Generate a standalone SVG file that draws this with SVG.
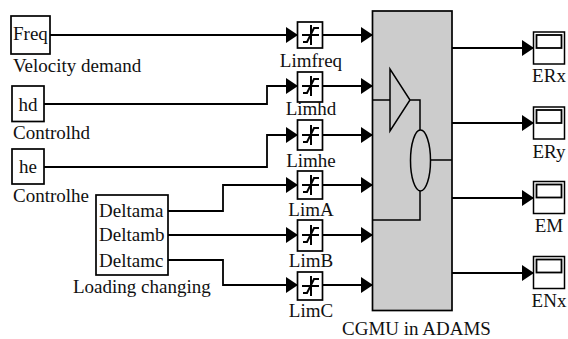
<svg xmlns="http://www.w3.org/2000/svg" width="568" height="339" viewBox="0 0 568 339">
<defs>
<marker id="a" markerUnits="userSpaceOnUse" markerWidth="13" markerHeight="17" refX="12" refY="8.500" orient="auto"><path d="M0 0.500L12 8.500L0 16.500Z" fill="#000"/></marker>
<path id="g" d="M-7 7H-3L4 -7H9M1 -10V10M-8 0H9" fill="none" stroke="#000" stroke-width="2"/>
<g id="scope"><rect x="-15.500" y="-16" width="31" height="32" fill="#fff" stroke="#000" stroke-width="1.500"/><rect x="-12.500" y="-13" width="25" height="13" fill="#fff" stroke="#000" stroke-width="1.800"/></g>
</defs>
<style>
text{font-family:"Liberation Serif","Times New Roman",serif;font-size:19px;fill:#111}
.b{fill:#fff;stroke:#000;stroke-width:1.700}
.c{fill:none;stroke:#000;stroke-width:1.800;marker-end:url(#a)}
.i{fill:none;stroke:#000;stroke-width:1.500}
.m{text-anchor:middle}
</style>
<g id="connectors">
<path class="c" d="M50 35H298"/>
<path class="c" d="M44 104H267V86H298"/>
<path class="c" d="M44 167H267V135H298"/>
<path class="c" d="M168 211H223V185H298"/>
<path class="c" d="M168 235H298"/>
<path class="c" d="M168 260H223V285H298"/>
<path class="c" d="M323 35H373"/>
<path class="c" d="M323 86H373"/>
<path class="c" d="M323 135H373"/>
<path class="c" d="M323 185H373"/>
<path class="c" d="M323 235H373"/>
<path class="c" d="M323 285H373"/>
<path class="c" d="M452 48H534"/>
<path class="c" d="M452 123H534"/>
<path class="c" d="M452 198H534"/>
<path class="c" d="M452 273H534"/>
</g>
<g id="Freq"><rect class="b" x="11" y="16" width="39" height="38"/><text x="13" y="40">Freq</text><text x="13" y="72">Velocity demand</text></g>
<g id="hd"><rect class="b" x="12" y="86" width="32" height="35.500"/><text class="m" x="28" y="111">hd</text><text x="13" y="139">Controlhd</text></g>
<g id="he"><rect class="b" x="12" y="149" width="32" height="35"/><text class="m" x="28" y="173">he</text><text x="13" y="202">Controlhe</text></g>
<g id="Loading"><rect class="b" x="96" y="195" width="72" height="80"/><text x="99" y="217">Deltama</text><text x="99" y="241">Deltamb</text><text x="99" y="267">Deltamc</text><text x="73" y="293">Loading changing</text></g>
<g id="Limfreq"><rect class="b" x="297.500" y="22" width="25" height="26"/><use href="#g" x="310" y="35"/><text class="m" x="311" y="67">Limfreq</text></g>
<g id="Limhd"><rect class="b" x="297.500" y="72" width="25" height="30"/><use href="#g" x="310" y="86"/><text class="m" x="311" y="115">Limhd</text></g>
<g id="Limhe"><rect class="b" x="297.500" y="120" width="25" height="30"/><use href="#g" x="310" y="135"/><text class="m" x="311" y="167">Limhe</text></g>
<g id="LimA"><rect class="b" x="297.500" y="171" width="25" height="28"/><use href="#g" x="310" y="185"/><text class="m" x="311" y="216">LimA</text></g>
<g id="LimB"><rect class="b" x="297.500" y="220" width="25" height="31"/><use href="#g" x="310" y="235"/><text class="m" x="311" y="267">LimB</text></g>
<g id="LimC"><rect class="b" x="297.500" y="272" width="25" height="28"/><use href="#g" x="310" y="286"/><text class="m" x="311" y="317">LimC</text></g>
<g id="CGMU"><rect x="372.500" y="11" width="79.500" height="299.500" fill="#ccc" stroke="#000" stroke-width="1.700"/>
<path class="i" d="M373 100H390M390 69V131L410 100ZM410 100H420V130M420 191V220H373M431 160H452"/><ellipse class="i" cx="420.500" cy="160.500" rx="10" ry="30.500"/>
<text class="m" x="416.500" y="335">CGMU in ADAMS</text></g>
<g id="ERx"><use href="#scope" x="549" y="48"/><text class="m" x="549" y="82">ERx</text></g>
<g id="ERy"><use href="#scope" x="549" y="123"/><text class="m" x="549" y="158">ERy</text></g>
<g id="EM"><use href="#scope" x="549" y="197.500"/><text class="m" x="549" y="232">EM</text></g>
<g id="ENx"><use href="#scope" x="549" y="272.500"/><text class="m" x="549" y="307">ENx</text></g>
</svg>
